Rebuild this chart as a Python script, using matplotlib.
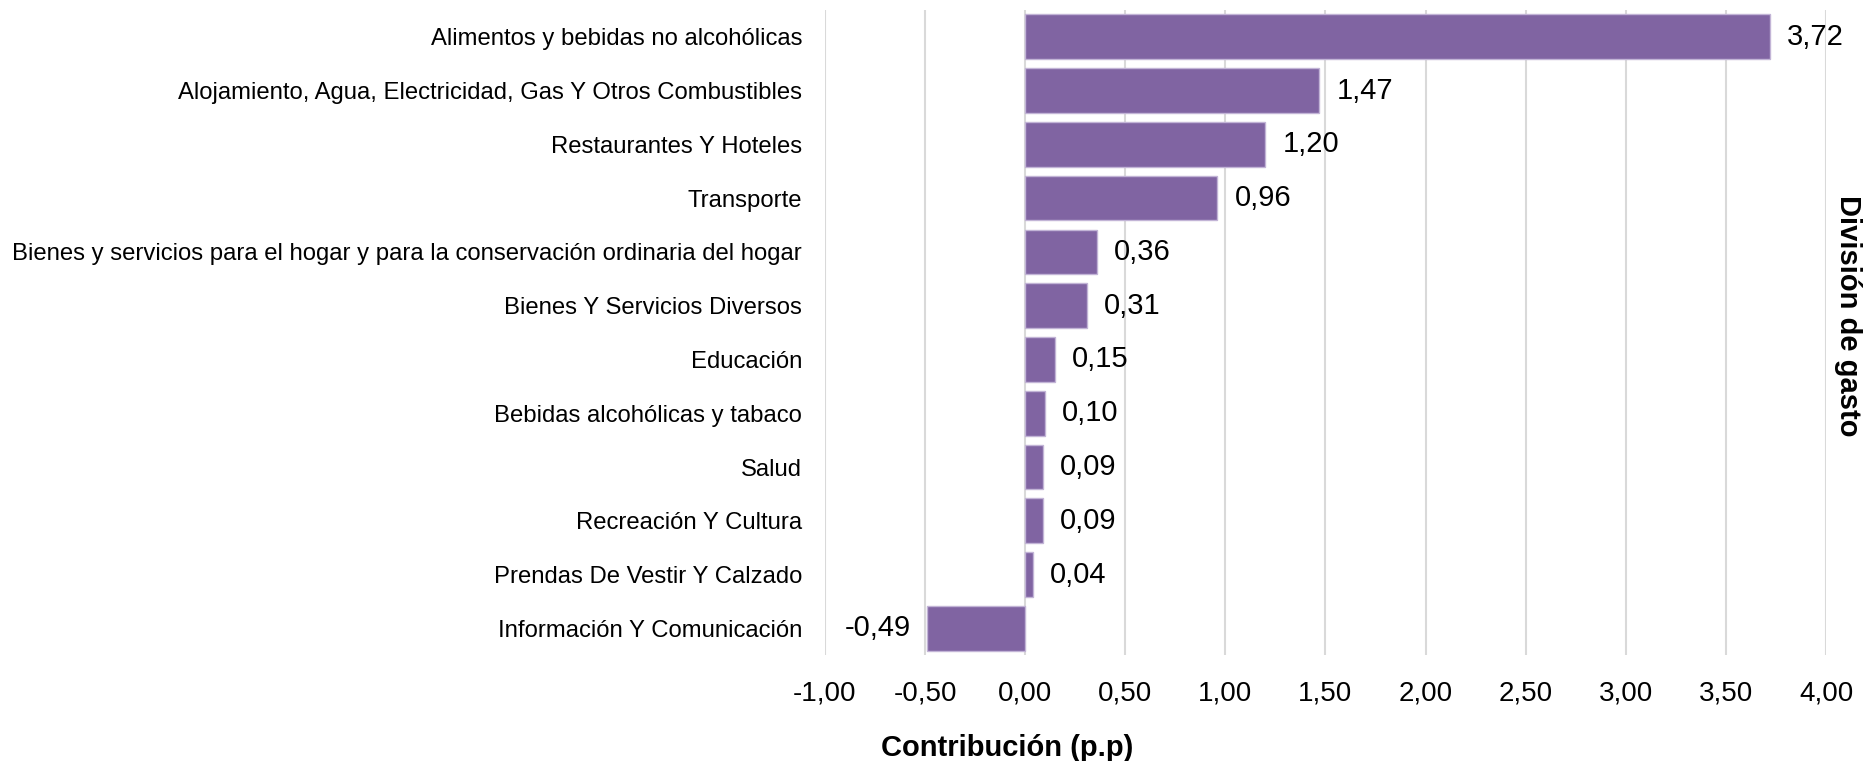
import numpy as np
import matplotlib.pyplot as plt

# data
categorias = ['Alimentos y bebidas no alcohólicas',
              'Alojamiento, Agua, Electricidad, Gas Y Otros Combustibles',
              'Restaurantes Y Hoteles',
              'Transporte',
              'Bienes y servicios para el hogar y para la conservación ordinaria del hogar',
              'Bienes Y Servicios Diversos',
              'Educación',
              'Bebidas alcohólicas y tabaco',
              'Salud',
              'Recreación Y Cultura',
              'Prendas De Vestir Y Calzado',
              'Información Y Comunicación']
contribucion = [3.72, 1.47, 1.20, 0.96, 0.36, 0.31, 0.15, 0.10, 0.09, 0.09, 0.04, -0.49]
xticks = [-1.0, -0.5, 0.0, 0.5, 1.0, 1.5, 2.0, 2.5, 3.0, 3.5, 4.0]

plt.rcParams['font.family'] = ['Liberation Sans', 'DejaVu Sans']

fig = plt.figure(figsize=(18.69, 7.61), dpi=100)
ax = fig.add_axes([0.4414, 0.139, 0.5356, 0.848])

y = np.arange(len(categorias))
ax.barh(y, contribucion, height=0.83, color='#8064A2', edgecolor='#c2b4d6', linewidth=1, zorder=3)

def fmt(v):
    return ('%.2f' % v).replace('.', ',')

for yi, v in zip(y, contribucion):
    if v >= 0:
        ax.text(v + 0.085, yi, fmt(v), ha='left', va='center', fontsize=21, color='#000000')
    else:
        ax.text(v - 0.08, yi, fmt(v), ha='right', va='center', fontsize=21, color='#000000')

ax.set_ylim(len(categorias) - 0.5, -0.5)
ax.set_xlim(-1.0, 4.0)
ax.set_yticks(y)
ax.set_yticklabels(categorias, fontsize=17.2)
ax.set_xticks(xticks)
ax.set_xticklabels([fmt(t) for t in xticks], fontsize=20)
ax.tick_params(axis='y', length=0, pad=16.5)
ax.tick_params(axis='x', length=0, pad=18)
ax.grid(axis='x', color='#d9d9d9', linewidth=1.5, zorder=0)
for s in ax.spines.values():
    s.set_visible(False)

fig.text(0.539, 0.017, 'Contribución (p.p)', ha='center', va='center', fontsize=21, fontweight='bold')
fig.text(0.989, 0.585, 'División de gasto', ha='center', va='center', rotation=-90,
         fontsize=21, fontweight='bold')

fig.savefig('out.png', dpi=100)
